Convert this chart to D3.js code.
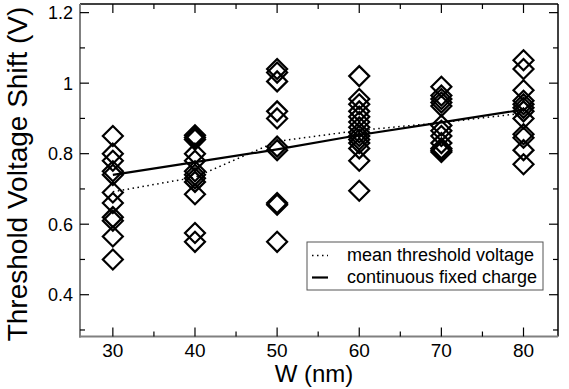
<!DOCTYPE html>
<html><head><meta charset="utf-8">
<script src="https://cdn.jsdelivr.net/npm/d3@7"></script>
<style>body{margin:0;background:#fff;}svg{display:block;font-family:"Liberation Sans",Arial,sans-serif;}</style>
</head><body><svg id="c" width="569" height="389"></svg>
<script>
const widths = [30, 40, 50, 60, 70, 80];
const shift30 = [0.85, 0.80, 0.78, 0.75, 0.74, 0.69, 0.66, 0.62, 0.61, 0.565, 0.50];
const shift40 = [0.852, 0.846, 0.84, 0.80, 0.78, 0.75, 0.74, 0.73, 0.72, 0.685, 0.575, 0.55];
const shift50 = [1.04, 1.03, 1.005, 0.92, 0.90, 0.82, 0.81, 0.66, 0.655, 0.55];
const shift60 = [1.02, 0.955, 0.94, 0.92, 0.905, 0.89, 0.875, 0.86, 0.85, 0.84, 0.83, 0.815, 0.78, 0.695];
const shift70 = [0.99, 0.965, 0.955, 0.945, 0.935, 0.88, 0.865, 0.85, 0.83, 0.815, 0.81, 0.805];
const shift80 = [1.065, 1.04, 0.98, 0.95, 0.94, 0.93, 0.92, 0.90, 0.855, 0.845, 0.81, 0.77];
const meanThreshold = [0.692, 0.733, 0.835, 0.866, 0.888, 0.915];
const continuousCharge = [0.740, 0.776, 0.812, 0.853, 0.889, 0.925];
const xTicks = [30, 40, 50, 60, 70, 80];
const xMinor = [35, 45, 55, 65, 75];
const yTicks = [0.4, 0.6, 0.8, 1.0, 1.2];
const yMinor = [0.3, 0.5, 0.7, 0.9, 1.1];
const yTickLabels = ["0.4", "0.6", "0.8", "1", "1.2"];
const legendLabels = ["mean threshold voltage", "continuous fixed charge"];

const svg = d3.select("#c");
const L = 80, R = 558, T = 4, B = 336.5;
const x = d3.scaleLinear().domain([26, 84.2]).range([L, R]);
const y = d3.scaleLinear().domain([0.2815, 1.2245]).range([B, T]);

const samples = [shift30, shift40, shift50, shift60, shift70, shift80];
const points = [];
samples.forEach((arr, i) => arr.forEach(v => points.push({w: widths[i], v})));

// lines
const line = d3.line().x((d, i) => x(widths[i])).y(d => y(d));
svg.append("path").attr("d", line(meanThreshold)).attr("fill", "none")
  .attr("stroke", "#000").attr("stroke-width", 1.5).attr("stroke-dasharray", "1.5,3.5");
svg.append("path").attr("d", line(continuousCharge)).attr("fill", "none")
  .attr("stroke", "#000").attr("stroke-width", 2.2);

// diamonds
const r = 10;
svg.append("g").selectAll("path").data(points).join("path")
  .attr("d", d => {
    const cx = x(d.w), cy = y(d.v);
    const p = d3.path();
    p.moveTo(cx, cy - r); p.lineTo(cx + r, cy); p.lineTo(cx, cy + r); p.lineTo(cx - r, cy); p.closePath();
    return p.toString();
  })
  .attr("fill", "none").attr("stroke", "#000").attr("stroke-width", 2.2);

// frame
svg.append("line").attr("x1", L).attr("x2", R).attr("y1", T).attr("y2", T).attr("stroke", "#000").attr("stroke-width", 1.5);
svg.append("line").attr("x1", R).attr("x2", R).attr("y1", T).attr("y2", B).attr("stroke", "#000").attr("stroke-width", 1.5);
svg.append("line").attr("x1", L).attr("x2", L).attr("y1", T).attr("y2", B+1).attr("stroke", "#808080").attr("stroke-width", 2);
svg.append("line").attr("x1", L-1).attr("x2", R).attr("y1", B).attr("y2", B).attr("stroke", "#808080").attr("stroke-width", 2);

// ticks
const tk = svg.append("g").attr("stroke", "#000").attr("stroke-width", 1.2);
xTicks.forEach(t => {
  tk.append("line").attr("x1", x(t)).attr("x2", x(t)).attr("y1", B).attr("y2", B - 9);
  tk.append("line").attr("x1", x(t)).attr("x2", x(t)).attr("y1", T).attr("y2", T + 9);
});
xMinor.forEach(t => {
  tk.append("line").attr("x1", x(t)).attr("x2", x(t)).attr("y1", B).attr("y2", B - 5);
  tk.append("line").attr("x1", x(t)).attr("x2", x(t)).attr("y1", T).attr("y2", T + 5);
});
yTicks.forEach(t => {
  tk.append("line").attr("x1", L).attr("x2", L + 9).attr("y1", y(t)).attr("y2", y(t));
  tk.append("line").attr("x1", R).attr("x2", R - 9).attr("y1", y(t)).attr("y2", y(t));
});
yMinor.forEach(t => {
  tk.append("line").attr("x1", L).attr("x2", L + 5).attr("y1", y(t)).attr("y2", y(t));
  tk.append("line").attr("x1", R).attr("x2", R - 5).attr("y1", y(t)).attr("y2", y(t));
});

// tick labels
svg.append("g").selectAll("text").data(xTicks).join("text")
  .attr("x", d => x(d)).attr("y", 357).attr("text-anchor", "middle")
  .attr("font-size", 19).text(d => d);
svg.append("g").selectAll("text").data(yTicks).join("text")
  .attr("x", 73).attr("y", d => y(d) + 6.5).attr("text-anchor", "end")
  .attr("font-size", 18).text((d, i) => yTickLabels[i]);

// axis titles
svg.append("text").attr("x", 314).attr("y", 382).attr("text-anchor", "middle")
  .attr("font-size", 24).text("W (nm)");
svg.append("text").attr("transform", "translate(27,174) rotate(-90)").attr("text-anchor", "middle")
  .attr("font-size", 28).text("Threshold Voltage Shift (V)");

// legend
const lg = svg.append("g");
lg.append("rect").attr("x", 307).attr("y", 242).attr("width", 236).attr("height", 48)
  .attr("fill", "#fff").attr("stroke", "#555").attr("stroke-width", 1);
lg.append("line").attr("x1", 312).attr("x2", 328).attr("y1", 255.5).attr("y2", 255.5)
  .attr("stroke", "#000").attr("stroke-width", 1.5).attr("stroke-dasharray", "1.5,3.5");
lg.append("line").attr("x1", 312).attr("x2", 328).attr("y1", 277.5).attr("y2", 277.5)
  .attr("stroke", "#000").attr("stroke-width", 2.2);
lg.selectAll("text.l").data(legendLabels).join("text").attr("class", "l")
  .attr("x", 347).attr("y", (d, i) => 261 + i * 21.5).attr("font-size", 18).text(d => d);
</script></body></html>
